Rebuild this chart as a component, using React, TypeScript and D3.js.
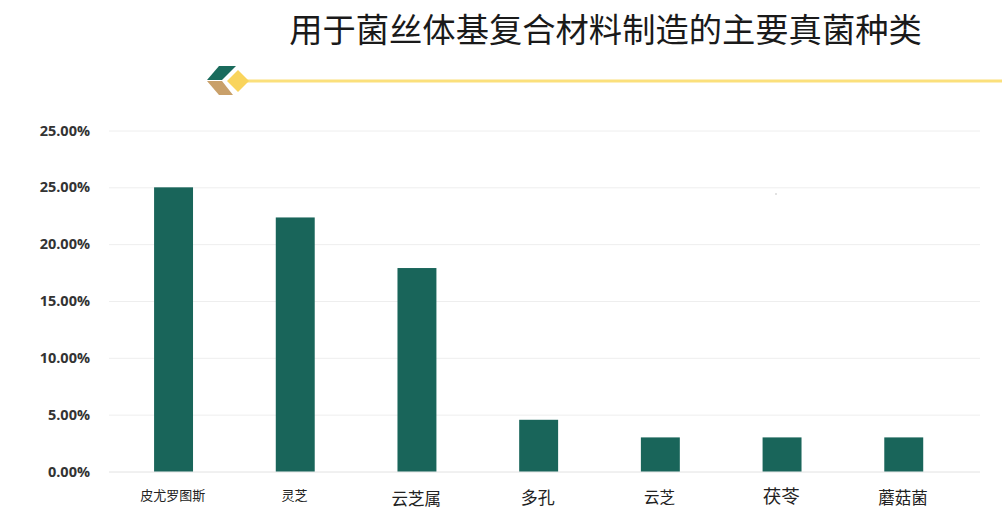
import React, { useRef, useEffect } from "react";
import * as d3 from "d3";

const categories = ["皮尤罗图斯", "灵芝", "云芝属", "多孔", "云芝", "茯苓", "蘑菇菌"];
const shares = [25, 22.35, 17.9, 4.55, 3, 3, 3];
const tickValues = [0, 5, 10, 15, 20, 25, 30];
const tickLabels = ["0.00%", "5.00%", "10.00%", "15.00%", "20.00%", "25.00%", "25.00%"];

const title = "用于菌丝体基复合材料制造的主要真菌种类";

const WIDTH = 1002;
const HEIGHT = 527;
const CJK = '"Noto Sans CJK SC", "Noto Sans", sans-serif';

// the category labels were pasted in by hand, every one has its own size and baseline
const labelSizes = [13, 13, 16.5, 17, 15.5, 18.5, 16.5];
const labelShifts = [0, 0, 2, 1, 1, -1, 1];

const App: React.FC = () => {
    const ref = useRef<SVGSVGElement | null>(null);

    useEffect(() => {
        if (!ref.current) return;

        const svg = d3.select(ref.current);
        svg.selectAll("*").remove();

        const x = d3
            .scaleBand<string>()
            .domain(categories)
            .range([112.7, 964.6])
            .paddingInner(0.68)
            .paddingOuter(0.34);

        const y = d3.scaleLinear().domain([0, 30]).range([471.5, 130.5]);

        // gridlines + tick labels
        const yAxis = svg
            .append("g")
            .attr("transform", "translate(109,0)")
            .call(
                d3
                    .axisLeft(y)
                    .tickValues(tickValues)
                    .tickSize(-871)
                    .tickPadding(20)
                    .tickFormat((_, i) => tickLabels[i])
            );
        yAxis.select(".domain").remove();
        yAxis
            .selectAll(".tick line")
            .attr("stroke", (_, i) => (i === 0 ? "#e2e2e2" : "#eeeeee"))
            .attr("stroke-width", 1);
        yAxis
            .selectAll(".tick text")
            .attr("x", -19)
            .attr("fill", "#333333")
            .attr("font-family", '"Open Sans", sans-serif')
            .attr("font-weight", 700)
            .attr("font-size", 14.5);

        svg
            .append("g")
            .attr("fill", "#19655a")
            .selectAll("rect")
            .data(shares)
            .enter()
            .append("rect")
            .attr("x", (_, i) => x(categories[i])!)
            .attr("y", d => y(d))
            .attr("width", x.bandwidth())
            .attr("height", d => y(0) - y(d));

        const xAxis = svg
            .append("g")
            .attr("transform", "translate(0,471.5)")
            .call(d3.axisBottom(x).tickSize(0).tickPadding(19.5));
        xAxis.select(".domain").remove();
        xAxis
            .selectAll<SVGTextElement, string>(".tick text")
            .attr("x", -0.8)
            .attr("fill", "#222222")
            .attr("font-family", CJK)
            .attr("font-size", (_, i) => labelSizes[i])
            .attr("dy", (_, i) => `${0.71 + labelShifts[i] / labelSizes[i]}em`);

        svg
            .append("text")
            .attr("x", 605.5)
            .attr("y", 42)
            .attr("text-anchor", "middle")
            .attr("fill", "#1a1a1a")
            .attr("font-family", CJK)
            .attr("font-size", 33.3)
            .text(title);

        // header ornament
        svg
            .append("line")
            .attr("x1", 245)
            .attr("x2", 1002)
            .attr("y1", 81)
            .attr("y2", 81)
            .attr("stroke", "#fbe07c")
            .attr("stroke-width", 3);
        const ornament = svg.append("g");
        ornament.append("polygon").attr("points", "207,80 219,66 236,66 222,80").attr("fill", "#1a6b5c");
        ornament.append("polygon").attr("points", "207,81 222,81 233,95 219,95").attr("fill", "#c9a06a");
        ornament.append("polygon").attr("points", "238,70 249,81 238,92 227,81").attr("fill", "#f9d45c");

        // faint speck in the scan
        svg
            .append("circle")
            .attr("cx", 776)
            .attr("cy", 194)
            .attr("r", 1)
            .attr("fill", "#d8d8d8");
    }, []);

    return (
        <svg
            ref={ref}
            width={WIDTH}
            height={HEIGHT}
            style={{ position: "absolute", left: 0, top: 0, background: "#fff" }}
        />
    );
};

export default App;
